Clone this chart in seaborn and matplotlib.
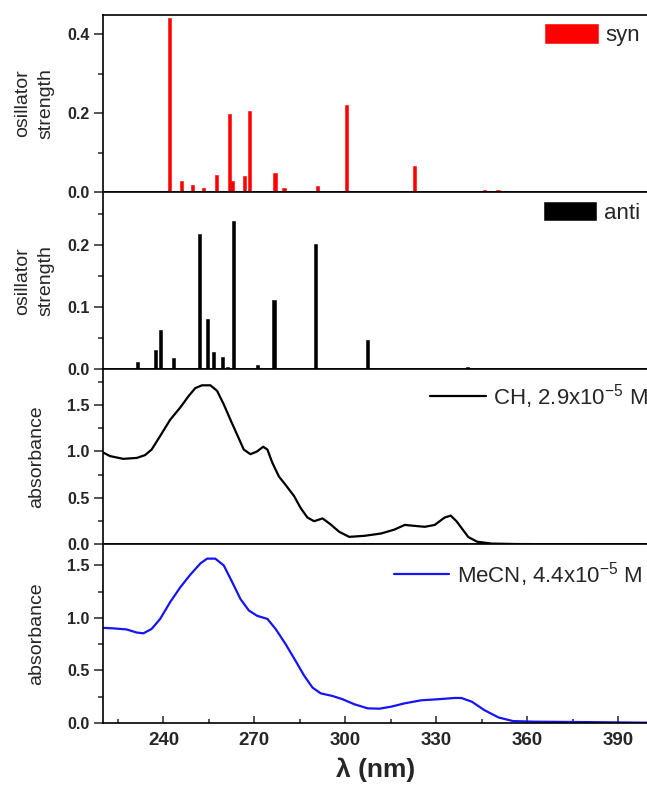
import matplotlib
matplotlib.use("Agg")
import matplotlib.pyplot as plt
from matplotlib.ticker import MultipleLocator
import seaborn as sns
import numpy as np

sns.set_theme(style="ticks")
plt.rcParams['font.family'] = ['Liberation Sans', 'DejaVu Sans']
plt.rcParams['mathtext.fontset'] = 'custom'
plt.rcParams['mathtext.rm'] = 'Liberation Sans'
plt.rcParams['mathtext.it'] = 'Liberation Sans:italic'

# calculated transitions (nm, oscillator strength)
syn_nm = [241.9, 245.9, 249.5, 253.2, 257.5, 261.8, 262.6, 266.8, 268.5,
          276.8, 279.8, 290.7, 300.4, 322.9, 345.9, 350.4]
syn_f = [0.44, 0.027, 0.0185, 0.010, 0.044, 0.197, 0.029, 0.041, 0.206,
         0.048, 0.010, 0.014, 0.221, 0.065, 0.006, 0.006]

anti_nm = [231.4, 237.3, 238.9, 243.3, 251.8, 254.5, 256.5, 259.4, 261.1,
           263.0, 271.0, 276.5, 290.1, 307.3, 340.3]
anti_f = [0.012, 0.032, 0.063, 0.018, 0.217, 0.081, 0.028, 0.020, 0.004,
          0.238, 0.007, 0.112, 0.202, 0.048, 0.004]

# measured spectra
ch_nm = [220.0, 222.3, 226.7, 231.2, 233.9, 236.1, 238.9, 242.2, 245.5, 248.3,
         250.5, 252.7, 255.5, 257.7, 259.9, 262.1, 264.3, 266.5, 268.7, 270.9,
         272.9, 274.3, 275.9, 278.1, 280.3, 283.1, 285.3, 287.5, 289.7, 292.5,
         295.2, 298.0, 301.3, 306.3, 311.8, 316.2, 319.6, 322.9, 326.2, 329.5,
         332.8, 334.8, 336.7, 338.3, 340.6, 343.5, 348.2, 356.4, 370.0, 385.0,
         399.5]
ch_abs = [0.99, 0.95, 0.92, 0.93, 0.96, 1.02, 1.165, 1.34, 1.47, 1.595,
          1.68, 1.71, 1.71, 1.65, 1.505, 1.34, 1.18, 1.02, 0.97, 1.00,
          1.05, 1.02, 0.88, 0.73, 0.64, 0.52, 0.39, 0.29, 0.25, 0.28,
          0.215, 0.136, 0.082, 0.093, 0.118, 0.16, 0.21, 0.20, 0.19, 0.21,
          0.29, 0.31, 0.25, 0.18, 0.08, 0.03, 0.01, 0.005, 0.003, 0.002,
          0.0]

mecn_nm = [220.0, 223.4, 227.8, 231.2, 233.4, 236.1, 238.9, 242.2, 245.5, 248.8,
           252.2, 254.4, 257.1, 259.9, 262.7, 265.4, 268.2, 270.9, 274.3, 277.0,
           280.3, 283.6, 286.4, 289.2, 291.9, 295.8, 299.1, 303.0, 307.4, 311.3,
           315.1, 319.6, 325.1, 330.6, 336.1, 338.3, 341.8, 345.9, 350.6, 355.3,
           362.2, 379.8, 399.5]
mecn_abs = [0.905, 0.90, 0.89, 0.86, 0.853, 0.895, 0.99, 1.15, 1.29, 1.41,
            1.52, 1.565, 1.565, 1.50, 1.34, 1.18, 1.07, 1.02, 0.99, 0.895,
            0.75, 0.59, 0.45, 0.335, 0.28, 0.255, 0.224, 0.176, 0.137, 0.134,
            0.153, 0.185, 0.214, 0.224, 0.236, 0.236, 0.20, 0.12, 0.05, 0.016,
            0.01, 0.006, 0.0]

fig = plt.figure(figsize=(6.47, 7.89), dpi=100)
left, width = 0.159, 0.843
bounds = [(0.7567, 0.9816), (0.5317, 0.7567), (0.3099, 0.5317), (0.0840, 0.3099)]
axes = [fig.add_axes([left, b, width, t - b]) for b, t in bounds]

bar_w = 1.05  # nm
for ax, nm, f, col, lab in [(axes[0], syn_nm, syn_f, '#ff0000', 'syn'),
                            (axes[1], anti_nm, anti_f, 'black', 'anti')]:
    gap = np.min(np.diff(sorted(nm)))
    sns.barplot(x=nm, y=f, ax=ax, native_scale=True, width=bar_w / gap,
                color=col, saturation=1, errorbar=None, label=lab,
                edgecolor=col, linewidth=0.4)

sns.lineplot(x=ch_nm, y=ch_abs, ax=axes[2], color='black', lw=1.6,
             label=r'CH, 2.9x10$^{\mathrm{-5}}$ M')
sns.lineplot(x=mecn_nm, y=mecn_abs, ax=axes[3], color='#1414f5', lw=1.6,
             label=r'MeCN, 4.4x10$^{\mathrm{-5}}$ M')

ylims = [(0, 0.45), (0, 0.285), (0, 1.88), (0, 1.70)]
majors = [0.2, 0.1, 0.5, 0.5]
minors = [0.1, 0.05, 0.25, 0.25]
ylabels = ['osillator\nstrength', 'osillator\nstrength', 'absorbance', 'absorbance']
label_x = [-0.088, -0.088, -0.106, -0.106]
leg_anchor = [(0.985, 0.945), (0.985, 0.945), (1.0, 0.93), (0.99, 0.915)]

for i, ax in enumerate(axes):
    ax.set_xlim(220, 400)
    ax.set_ylim(*ylims[i])
    ax.yaxis.set_major_locator(MultipleLocator(majors[i]))
    ax.yaxis.set_minor_locator(MultipleLocator(minors[i]))
    ax.xaxis.set_major_locator(MultipleLocator(30))
    ax.xaxis.set_minor_locator(MultipleLocator(15))
    ax.tick_params(axis='y', which='major', direction='out', length=6.5, width=1.1,
                   labelsize=11.5, pad=3)
    ax.tick_params(axis='y', which='minor', direction='out', length=3.5, width=1.1)
    ax.tick_params(axis='x', which='major', direction='in', length=5, width=1.1,
                   labelsize=13.5, pad=7)
    ax.tick_params(axis='x', which='minor', direction='in', length=3, width=1.1)
    for lab in ax.get_yticklabels():
        lab.set_fontweight('bold')
    for s in ax.spines.values():
        s.set_linewidth(1.2)
        s.set_color('black')
    ax.set_ylabel(ylabels[i], fontsize=14, linespacing=1.55)
    ax.yaxis.set_label_coords(label_x[i], 0.5)
    ax.set_xlabel('')
    if i < 3:
        ax.tick_params(axis='x', which='both', bottom=False, labelbottom=False)
    leg_kw = dict(loc='upper right', frameon=False, fontsize=16,
                  handletextpad=0.35, borderaxespad=0.0, borderpad=0.0,
                  bbox_to_anchor=leg_anchor[i])
    if i < 2:
        ax.legend(handlelength=2.35, handleheight=0.9, **leg_kw)
    else:
        ax.legend(handlelength=2.5, **leg_kw)

for lab in axes[3].get_xticklabels():
    lab.set_fontweight('bold')
axes[3].set_xlabel('λ (nm)', fontsize=19, fontweight='bold', labelpad=6)

fig.savefig('out.png', dpi=100)
